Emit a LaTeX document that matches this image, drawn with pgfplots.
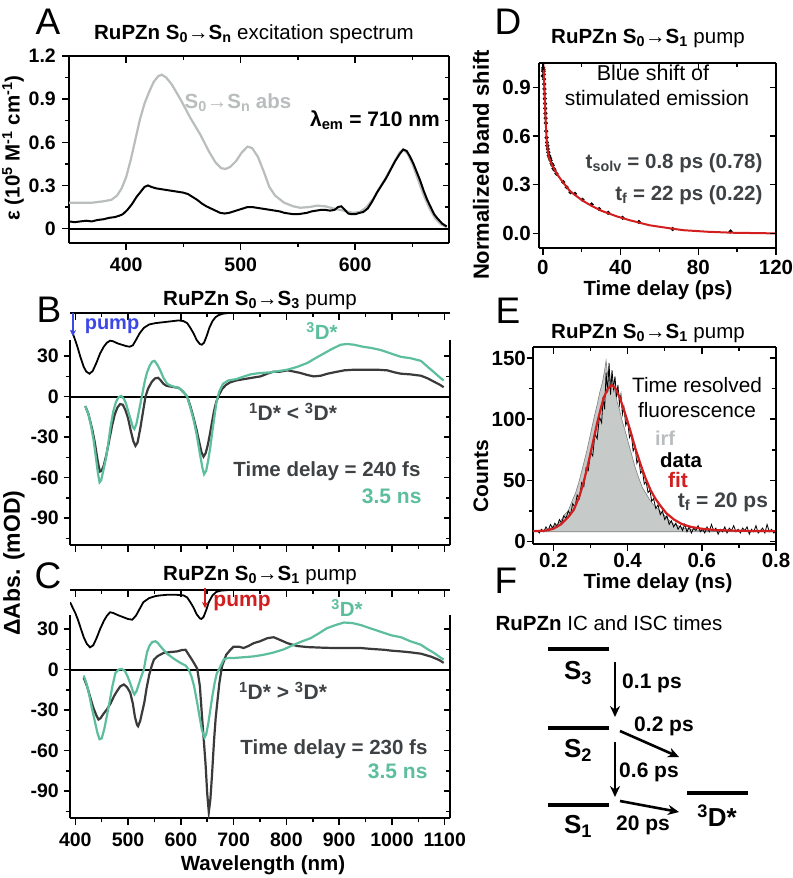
\documentclass[border=0pt]{standalone}
\usepackage{fontspec}
\setmainfont{Liberation Sans}
\usepackage{pgfplots}
\pgfplotsset{compat=1.18}
\usetikzlibrary{arrows.meta}
\definecolor{dkg}{RGB}{58,58,58}
\definecolor{tealc}{RGB}{92,190,158}
\definecolor{ltg}{RGB}{185,189,189}
\definecolor{redc}{RGB}{210,30,30}
\definecolor{bluec}{RGB}{60,72,230}
\definecolor{txtg}{RGB}{62,66,68}
\definecolor{irff}{RGB}{198,202,201}
\newcommand{\fs}[1]{\fontsize{#1bp}{#1bp}\selectfont}
\tikzset{xl/.style={anchor=north, inner sep=0pt, font=\fs{19.5}\bfseries},
         yl/.style={anchor=east, inner sep=0pt, font=\fs{19.5}\bfseries}}
\pgfplotsset{
  base/.style={scale only axis, axis line style={line width=2.2bp,-}, tick style={line width=1.5bp,black},
    major tick length=6.5bp, minor tick length=4bp, xticklabels={}, yticklabels={}, clip mode=individual},
  front/.style={base, axis x line*=bottom, axis y line*=left, tick align=outside},
  back/.style={base, axis x line*=top, axis y line*=right, tick align=inside},
  panA/.style={at={(69bp,-243bp)}, anchor=south west, width=380bp, height=187bp,
    xmin=350, xmax=682, ymin=-0.1, ymax=1.2, xtick={400,500,600}, minor xtick={450,550,650},
    ytick={0,0.3,0.6,0.9,1.2}, minor ytick={0.15,0.45,0.75,1.05}},
  panBC/.style={width=380bp, anchor=south west, xmin=390, xmax=1110, ymin=-110,
    xtick={400,500,...,1100}, minor xtick={450,550,...,1050},
    ytick={-90,-60,-30,0,30}, minor ytick={-105,-75,-45,-15,15},
    y axis line style={draw=none}},
  panB/.style={panBC, at={(70bp,-545bp)}, height=232bp, ymax=62},
  panC/.style={panBC, at={(70bp,-818bp)}, height=228bp, ymax=59},
  panD/.style={at={(539bp,-248bp)}, anchor=south west, width=237bp, height=185bp,
    xmin=-2, xmax=120, ymin=-0.09, ymax=1.05, xtick={0,40,80,120}, minor xtick={20,60,100},
    ytick={0,0.3,0.6,0.9}},
  panE/.style={at={(533bp,-544bp)}, anchor=south west, width=243bp, height=197bp,
    xmin=0.145, xmax=0.8, ymin=-2, ymax=159, xtick={0.2,0.4,0.6,0.8}, minor xtick={0.3,0.5,0.7},
    ytick={0,50,100,150}, minor ytick={25,75,125}},
}
\begin{document}
\begin{tikzpicture}
\useasboundingbox (0,0) rectangle (793bp,-878bp);

% ================= Panel A =================
\begin{axis}[front, panA]
\pgfplotsinvokeforeach{400,500,600}{\node[xl, yshift=-15bp] at (axis cs:#1,-0.1) {#1};}
\pgfplotsinvokeforeach{0,0.3,0.6,0.9,1.2}{\node[yl, xshift=-13bp] at (axis cs:350,#1) {#1};}
\addplot[black, line width=2bp] coordinates {(350,0)(682,0)};
\addplot[ltg, line width=2.2bp] coordinates {
(350,0.18)(360,0.18)(370,0.18)(380,0.19)(387,0.2)(392,0.23)(396,0.28)(400,0.36)(404,0.48)(408,0.62)(412,0.76)(416,0.87)(420,0.95)(424,1.02)(428,1.06)(431,1.07)(435,1.05)(440,1.0)(448,0.89)(456,0.77)(465,0.65)(472,0.54)(478,0.46)(483,0.42)(487,0.415)(491,0.43)(496,0.47)(501,0.53)(506,0.57)(510,0.56)(515,0.5)(520,0.4)(525,0.29)(530,0.23)(538,0.18)(546,0.155)(552,0.145)(560,0.15)(567,0.16)(574,0.155)(581,0.14)(590,0.125)(598,0.11)(604,0.115)(610,0.15)(616,0.21)(622,0.29)(628,0.37)(634,0.46)(639,0.53)(642,0.55)(646,0.52)(650,0.45)(655,0.34)(660,0.23)(665,0.14)(670,0.07)(675,0.03)(680,0.01)};
\addplot[black, line width=2bp] coordinates {
(350,0.05)(355,0.045)(360,0.05)(365,0.055)(370,0.05)(375,0.06)(380,0.065)(385,0.075)(390,0.08)(394,0.09)(397,0.1)(401,0.13)(405,0.17)(409,0.22)(413,0.26)(416,0.29)(419,0.3)(422,0.29)(426,0.28)(430,0.275)(434,0.27)(438,0.265)(442,0.26)(446,0.255)(450,0.25)(454,0.24)(458,0.22)(462,0.2)(466,0.175)(470,0.155)(474,0.14)(478,0.125)(482,0.11)(486,0.105)(490,0.11)(494,0.12)(498,0.13)(502,0.14)(506,0.15)(510,0.15)(514,0.145)(518,0.14)(522,0.135)(526,0.13)(530,0.125)(534,0.12)(538,0.11)(542,0.105)(546,0.1)(550,0.1)(554,0.105)(558,0.11)(562,0.12)(566,0.125)(570,0.13)(574,0.13)(578,0.125)(582,0.13)(585,0.15)(588,0.155)(591,0.13)(594,0.105)(597,0.1)(600,0.1)(604,0.11)(607,0.115)(611,0.14)(615,0.19)(619,0.25)(623,0.3)(627,0.35)(631,0.41)(635,0.47)(639,0.52)(642,0.55)(645,0.54)(648,0.5)(651,0.45)(654,0.39)(657,0.33)(660,0.26)(663,0.2)(666,0.15)(669,0.1)(672,0.07)(676,0.035)(680,0.015)};
\end{axis}
\begin{axis}[back, panA]
\end{axis}

% ================= Panel B =================
\begin{axis}[front, panB]
\pgfplotsinvokeforeach{-90,-60,-30,0,30}{\node[yl, xshift=-11bp] at (axis cs:390,#1) {#1};}
\draw[line width=2.2bp] (axis cs:390,42) -- (axis cs:390,-110);
\addplot[black, line width=2bp] coordinates {(390,0)(1110,0)};
\addplot[black, line width=1.8bp] coordinates {
(393,49)(398,44)(404,37)(410,29)(416,22)(421,18.5)(427,17)(433,19)(440,25)(447,32)(454,37)(460,40)(466,41.5)(472,41)(480,39.5)(488,38.5)(496,37.5)(503,37)(509,38)(515,42)(522,47)(530,51)(540,53.5)(552,54.5)(563,55)(574,55.5)(585,56)(596,56.5)(605,56)(612,54.5)(618,51)(624,47)(630,42)(636,39)(640,38.5)(644,40)(649,45)(654,51)(660,56)(666,59)(672,60.5)(680,61.5)(690,62)};
\addplot[dkg, line width=2.2bp] coordinates {
(419,-7)(425,-13)(432,-24)(437,-34)(441,-44)(444,-51)(447,-55.5)(450,-55)(454,-51)(459,-43)(465,-31)(470,-21)(475,-13)(480,-8)(485,-5.5)(490,-6)(495,-10)(500,-16)(505,-25)(510,-33)(514,-36.5)(518,-34)(523,-24)(528,-12)(533,0)(538,6)(545,11)(551,13.5)(557,14)(562,12)(567,9.5)(573,8)(580,7.5)(588,7)(596,6.5)(602,4.5)(608,2)(612,0)(618,-7)(624,-15.5)(630,-25)(635,-34)(639,-41)(643,-44.5)(647,-42)(651,-36)(655,-28)(659,-19)(663,-10.5)(667,-4)(672,1)(678,5.5)(685,8.5)(693,10.5)(705,12)(720,13)(735,14)(751,15)(764,17)(775,18.5)(788,18.5)(802,19.5)(815,18.5)(827,17.5)(840,16)(852,15)(865,15.5)(878,17)(890,18)(910,19.5)(930,20)(950,20)(970,20)(991,19.5)(1005,18)(1017,17)(1035,16.5)(1055,15.5)(1068,13.5)(1080,11)(1090,9)(1098,7)};
\addplot[tealc, line width=2.2bp] coordinates {
(419,-7)(425,-13)(430,-22)(435,-33)(439,-45)(443,-57)(446,-63.5)(449,-62)(453,-55)(458,-46)(462,-36)(467,-22)(472,-11)(477,-4)(482,-0.5)(487,0.5)(492,-1.5)(496,-5)(500,-10.5)(505,-17)(509,-22.5)(512,-24)(516,-20)(520,-12)(524,-4)(528,4)(532,12)(536,18)(541,23)(546,26)(550,26.5)(555,24)(561,19.5)(567,14)(574,9.5)(582,8)(590,7)(596,6.5)(602,4.5)(608,2)(612,0)(618,-8)(624,-17)(630,-28)(636,-42)(641,-53)(644,-57.5)(648,-55)(652,-47)(656,-37)(661,-22)(665,-11)(668,-3)(673,4)(680,9.5)(690,12)(705,13)(720,15)(732,16.5)(750,17.5)(770,18)(786,19)(802,20)(820,22)(840,25)(855,28.5)(871,32)(887,35.5)(903,38.5)(915,39)(928,38.5)(945,37)(962,36)(979,34.5)(998,32)(1017,29.5)(1035,28.5)(1055,26.5)(1068,22)(1080,18)(1090,14.5)(1098,12)};
\end{axis}
\begin{axis}[back, panB]
\draw[line width=2.2bp] (axis cs:1110,42) -- (axis cs:1110,-110);
\end{axis}

% ================= Panel C =================
\begin{axis}[front, panC]
\pgfplotsinvokeforeach{400,500,600,700,800,900,1000,1100}{\node[xl, yshift=-15bp] at (axis cs:#1,-110) {#1};}
\pgfplotsinvokeforeach{-90,-60,-30,0,30}{\node[yl, xshift=-11bp] at (axis cs:390,#1) {#1};}
\draw[line width=2.2bp] (axis cs:390,40.5) -- (axis cs:390,-110);
\addplot[black, line width=2bp] coordinates {(390,0)(1110,0)};
\addplot[black, line width=1.8bp] coordinates {
(390,50)(395,46)(400,42)(405,37)(410,31)(416,24)(422,19)(428,16.5)(434,18)(440,23)(447,30)(454,36)(460,40)(466,42.5)(472,42)(480,40.5)(490,39)(500,37.5)(508,37)(515,40)(522,45)(529,50)(540,53)(552,54.5)(561,55)(575,55.5)(590,55.5)(605,55)(612,53.5)(618,50)(624,46)(630,41)(636,38)(639,37.5)(643,39)(648,44)(653,50)(660,55)(667,57.5)(675,58.5)(690,59)};
\addplot[dkg, line width=2.2bp] coordinates {
(416,-6)(422,-12)(428,-20)(434,-28)(440,-34)(444,-37)(448,-36)(453,-33)(460,-29.5)(467,-25)(473,-20)(479,-16)(485,-12.5)(492,-11)(498,-13)(504,-17)(509,-25)(513,-35)(517,-41)(519,-42)(523,-38)(527,-31)(531,-24)(535,-14)(540,-4)(545,3)(549,7.4)(556,10)(567,12.3)(580,13)(593,13.5)(602,14.5)(609,14.7)(615,11)(621,7.4)(627,3.5)(631,0.7)(636,-12)(640,-34)(644,-55)(647,-71)(650,-92)(653,-105.6)(656,-96)(659,-78.6)(663,-52)(666,-36)(669,-24.6)(673,-10)(678,2.5)(686,11)(694,14.7)(700,17)(710,17)(719,16)(728,17.5)(738,19.6)(750,21)(764,23.3)(776,24)(788,22)(802,19.6)(820,17.5)(840,16.7)(865,16.3)(890,16)(915,16)(941,16)(962,15.3)(985,14.7)(1000,14)(1017,13.5)(1035,12.8)(1055,11.8)(1075,9.5)(1090,7)(1098,5)};
\addplot[tealc, line width=2.2bp] coordinates {
(416,-4.4)(421,-10)(426,-18)(432,-29.5)(438,-40)(442,-47)(446,-51.6)(450,-51)(455,-44)(460,-34)(465,-24)(470,-13)(476,-2.5)(482,0)(488,0.5)(494,-1)(499,-5)(504,-10)(509,-16)(512,-18.4)(516,-16)(521,-10)(526,-4)(530,0)(533,7)(536,13)(541,18)(546,20.5)(552,21)(557,19.5)(562,17)(567,14.7)(573,12)(580,10)(587,8)(593,6.5)(599,5)(604,4)(609,3)(615,0)(620,-5)(625,-12)(631,-24.6)(636,-36)(640,-45)(645,-50.4)(648,-48)(652,-40)(656,-29.5)(660,-19)(664,-10)(668,-3)(672,0)(677,4)(681,7.4)(688,8.5)(700,8.6)(720,9.2)(738,9.8)(757,11)(776,12.7)(795,15)(814,18.4)(830,21)(846,23.3)(862,27)(877,30.7)(893,33)(909,34.9)(925,34.5)(941,33)(960,30.5)(979,28)(998,25.5)(1017,24)(1035,21)(1055,18.4)(1068,15)(1080,12.3)(1090,9.5)(1098,7.4)};
\end{axis}
\begin{axis}[back, panC]
\draw[line width=2.2bp] (axis cs:1110,40.5) -- (axis cs:1110,-110);
\end{axis}

% ================= Panel D =================
\begin{axis}[front, panD]
\pgfplotsinvokeforeach{0,40,80,120}{\node[xl, yshift=-12bp, font=\fs{20.5}\bfseries] at (axis cs:#1,-0.09) {#1};}
\node[yl, xshift=-8bp, font=\fs{20.5}\bfseries] at (axis cs:-2,0) {0.0};
\pgfplotsinvokeforeach{0.3,0.6,0.9}{\node[yl, xshift=-8bp, font=\fs{20.5}\bfseries] at (axis cs:-2,#1) {#1};}
\addplot[only marks, mark=*, mark size=1.9bp, black] coordinates {
(0,0.97)(0.1,1.0)(0.2,1.02)(0.3,1.01)(0.4,1.0)(0.5,0.98)(0.6,0.95)(0.7,0.92)(0.8,0.89)(0.9,0.86)(1.0,0.83)(1.1,0.8)(1.2,0.77)(1.3,0.74)(1.4,0.71)(1.5,0.68)(1.7,0.63)(1.9,0.59)(2.1,0.56)(2.3,0.54)(2.5,0.52)(2.8,0.5)(3.1,0.48)(3.4,0.47)(3.7,0.46)(4.0,0.45)(4.5,0.43)(5.0,0.42)(5.5,0.4)(6.0,0.39)(7.0,0.368)(10.5,0.316)(12.2,0.285)(14.2,0.254)(16.5,0.244)(20.4,0.207)(25.1,0.178)(29,0.15)(33.6,0.127)(41,0.096)(49.4,0.07)(66.8,0.027)(96.6,0.012)};
\addplot[redc, line width=2bp] coordinates {
(0,1.02)(0.25,1.03)(0.5,0.98)(0.75,0.9)(1,0.82)(1.5,0.67)(2,0.57)(2.5,0.51)(3,0.475)(4,0.44)(5,0.415)(7,0.37)(10,0.32)(14,0.26)(20,0.205)(25,0.17)(30,0.14)(38,0.105)(45,0.08)(55,0.05)(65,0.032)(72,0.02)(85,0.01)(98,0.004)(120,0.0)};
\end{axis}
\begin{axis}[back, panD]
\end{axis}

% ================= Panel E =================
\begin{axis}[front, panE]
\pgfplotsinvokeforeach{0.2,0.4,0.6,0.8}{\node[xl, yshift=-9bp, font=\fs{20.5}\bfseries] at (axis cs:#1,-2) {#1};}
\pgfplotsinvokeforeach{0,50,100,150}{\node[yl, xshift=-7bp, font=\fs{20.5}\bfseries] at (axis cs:0.145,#1) {#1};}
\addplot[fill=irff, draw=gray, line width=0.6bp] coordinates {
(0.150,8)(0.170,8.5)(0.185,10)(0.2,12)(0.21,14)(0.22,17)(0.23,22)(0.24,25)(0.25,33)(0.26,40)(0.27,50)(0.28,62)(0.29,74)(0.3,88)(0.31,102)(0.318,112)(0.325,122)(0.332,130)(0.338,140)(0.342,148)(0.346,136)(0.35,142)(0.354,130)(0.358,137)(0.362,127)(0.367,122)(0.372,114)(0.378,108)(0.385,99)(0.392,92)(0.4,83)(0.41,72)(0.42,61)(0.43,52)(0.44,44)(0.45,39)(0.46,34)(0.47,30)(0.48,27)(0.49,24)(0.5,21)(0.51,18)(0.52,15)(0.535,13)(0.55,11)(0.57,10)(0.6,9)(0.65,8.5)(0.7,8.5)(0.8,8)} -- cycle;
\addplot[black, line width=0.8bp] coordinates {
(0.150,8)(0.156,9)(0.162,7)(0.168,10)(0.174,8)(0.180,12)(0.186,9)(0.192,14)(0.198,11)(0.204,15)(0.210,12)(0.216,18)(0.222,15)(0.228,21)(0.234,19)(0.240,25)(0.246,22)(0.252,31)(0.258,28)(0.264,38)(0.270,35)(0.276,48)(0.282,45)(0.288,60)(0.294,58)(0.300,73)(0.306,70)(0.312,88)(0.318,84)(0.324,102)(0.330,97)(0.334,118)(0.338,108)(0.342,138)(0.346,122)(0.350,146)(0.354,120)(0.358,140)(0.362,125)(0.366,135)(0.370,118)(0.374,128)(0.378,112)(0.382,120)(0.386,104)(0.390,110)(0.395,95)(0.400,99)(0.405,85)(0.410,88)(0.415,74)(0.420,78)(0.425,64)(0.430,68)(0.435,56)(0.440,58)(0.445,47)(0.450,49)(0.455,40)(0.460,42)(0.465,33)(0.470,35)(0.476,27)(0.482,30)(0.488,22)(0.494,25)(0.500,18)(0.506,21)(0.512,14)(0.518,17)(0.524,12)(0.530,15)(0.536,10)(0.542,13)(0.548,9)(0.554,14)(0.560,8)(0.566,12)(0.572,7)(0.578,11)(0.584,9)(0.590,13)(0.596,8)(0.602,10)(0.608,7)(0.614,12)(0.620,8)(0.626,14)(0.632,9)(0.638,11)(0.644,6)(0.650,10)(0.656,8)(0.662,12)(0.668,7)(0.674,11)(0.680,9)(0.686,13)(0.692,8)(0.698,10)(0.704,7)(0.710,11)(0.716,9)(0.722,12)(0.728,6)(0.734,10)(0.740,8)(0.746,13)(0.752,7)(0.758,9)(0.764,11)(0.770,7)(0.776,14)(0.782,8)(0.788,10)(0.794,7)(0.800,9)};
\addplot[redc, line width=2.2bp] coordinates {
(0.145,8.5)(0.18,9)(0.2,10.5)(0.22,14)(0.24,20)(0.255,26)(0.27,37)(0.28,47)(0.291,60)(0.305,79)(0.318,97)(0.328,109)(0.336,118)(0.347,125)(0.357,128)(0.368,125)(0.381,116)(0.395,103)(0.408,90)(0.42,77)(0.435,63)(0.448,52)(0.462,42)(0.475,35)(0.489,29)(0.505,23)(0.525,18)(0.545,14.5)(0.57,12)(0.6,10.5)(0.64,9.3)(0.7,8.8)(0.8,8.5)};
\end{axis}
\begin{axis}[back, panE]
\end{axis}

% ================= Panel F (diagram) =================
\begin{axis}[at={(480bp,-870bp)}, anchor=south west, scale only axis, width=310bp, height=270bp,
  xmin=480, xmax=790, ymin=-870, ymax=-600, hide axis, clip=false]
\addplot[black, line width=4.5bp] coordinates {(548,-649)(609,-649)};
\addplot[black, line width=4.5bp] coordinates {(548,-728)(609,-728)};
\addplot[black, line width=4.5bp] coordinates {(548,-805)(609,-805)};
\addplot[black, line width=4.5bp] coordinates {(687,-793)(748,-793)};
\draw[line width=2.6bp, -{Stealth[length=11bp,width=10bp]}] (axis cs:615,-662) -- (axis cs:615,-717);
\draw[line width=2.6bp, -{Stealth[length=11bp,width=10bp]}] (axis cs:615,-742) -- (axis cs:615,-797);
\draw[line width=2.6bp, -{Stealth[length=11bp,width=10bp]}] (axis cs:620,-731) -- (axis cs:679,-757);
\draw[line width=2.6bp, -{Stealth[length=11bp,width=10bp]}] (axis cs:620,-801) -- (axis cs:679,-812);
\node[font=\fs{26}\bfseries] at (axis cs:578,-673) {S\textsubscript{3}};
\node[font=\fs{26}\bfseries] at (axis cs:578,-750) {S\textsubscript{2}};
\node[font=\fs{26}\bfseries] at (axis cs:578,-826) {S\textsubscript{1}};
\node[font=\fs{26}\bfseries] at (axis cs:717,-816) {\textsuperscript{3}D*};
\node[font=\fs{21}\bfseries] at (axis cs:652,-683) {0.1 ps};
\node[font=\fs{21}\bfseries] at (axis cs:664,-726) {0.2 ps};
\node[font=\fs{21}\bfseries] at (axis cs:649,-772) {0.6 ps};
\node[font=\fs{21}\bfseries] at (axis cs:643,-825) {20 ps};
\end{axis}

% ================= Text =================
\node[font=\fs{37}] at (48bp,-22bp) {A};
\node[font=\fs{37}] at (49bp,-310bp) {B};
\node[font=\fs{37}] at (48bp,-576bp) {C};
\node[font=\fs{37}] at (508bp,-22bp) {D};
\node[font=\fs{37}] at (508bp,-311bp) {E};
\node[font=\fs{37}] at (506bp,-581bp) {F};
% titles
\node[font=\fs{20.5}] at (254bp,-34bp) {\textbf{RuPZn S\textsubscript{0}→S\textsubscript{n}} excitation spectrum};
\node[font=\fs{20.5}] at (260bp,-300bp) {\textbf{RuPZn S\textsubscript{0}→S\textsubscript{3}} pump};
\node[font=\fs{20.5}] at (260bp,-575bp) {\textbf{RuPZn S\textsubscript{0}→S\textsubscript{1}} pump};
\node[font=\fs{20.5}] at (648bp,-38bp) {\textbf{RuPZn S\textsubscript{0}→S\textsubscript{1}} pump};
\node[font=\fs{20.5}] at (648bp,-333bp) {\textbf{RuPZn S\textsubscript{0}→S\textsubscript{1}} pump};
\node[font=\fs{20.5}] at (609bp,-623bp) {\textbf{RuPZn} IC and ISC times};
% axis labels
\node[font=\fs{20.5}\bfseries, rotate=90] at (13bp,-148bp) {ε (10\textsuperscript{5} M\textsuperscript{-1} cm\textsuperscript{-1})};
\node[font=\fs{23}\bfseries, rotate=90] at (14bp,-563bp) {ΔAbs. (mOD)};
\node[font=\fs{20.5}\bfseries] at (263bp,-865bp) {Wavelength (nm)};
\node[font=\fs{22}\bfseries, rotate=90] at (481bp,-165bp) {Normalized band shift};
\node[font=\fs{20.5}\bfseries] at (658bp,-290bp) {Time delay (ps)};
\node[font=\fs{21}\bfseries, rotate=90] at (481bp,-476bp) {Counts};
\node[font=\fs{20.5}\bfseries] at (658bp,-583bp) {Time delay (ns)};
% panel A annotations
\node[font=\fs{20.5}\bfseries, text=ltg] at (238bp,-103bp) {S\textsubscript{0}→S\textsubscript{n} abs};
\node[font=\fs{21}\bfseries] at (375bp,-120bp) {λ\textsubscript{em} = 710 nm};
% panel B annotations
\draw[bluec, line width=2bp, -{Stealth[length=6bp,width=6bp]}] (73bp,-313bp) -- (73bp,-336bp);
\node[font=\fs{20}\bfseries, text=bluec] at (112bp,-326bp) {pump};
\node[font=\fs{20.5}\bfseries, text=tealc] at (322bp,-331bp) {\textsuperscript{3}D*};
\node[font=\fs{21}\bfseries, text=txtg] at (293bp,-412bp) {\textsuperscript{1}D* < \textsuperscript{3}D*};
\node[font=\fs{20.5}\bfseries, text=txtg, anchor=east] at (424bp,-471bp) {Time delay = 240 fs};
\node[font=\fs{21}\bfseries, text=tealc, anchor=east] at (425bp,-496bp) {3.5 ns};
% panel C annotations
\draw[redc, line width=2bp, -{Stealth[length=6bp,width=6bp]}] (205bp,-588bp) -- (205bp,-608bp);
\node[font=\fs{21}\bfseries, text=redc] at (242bp,-603bp) {pump};
\node[font=\fs{20.5}\bfseries, text=tealc] at (347bp,-608bp) {\textsuperscript{3}D*};
\node[font=\fs{21}\bfseries, text=txtg] at (283bp,-691bp) {\textsuperscript{1}D* > \textsuperscript{3}D*};
\node[font=\fs{20.5}\bfseries, text=txtg, anchor=east] at (431bp,-749bp) {Time delay = 230 fs};
\node[font=\fs{21}\bfseries, text=tealc, anchor=east] at (431bp,-771bp) {3.5 ns};
% panel D annotations
\node[font=\fs{21.5}] at (653bp,-73bp) {Blue shift of};
\node[font=\fs{21}] at (657bp,-98bp) {stimulated emission};
\node[font=\fs{20.5}\bfseries, text=txtg, anchor=east] at (766bp,-163bp) {t\textsubscript{solv} = 0.8 ps (0.78)};
\node[font=\fs{20.5}\bfseries, text=txtg, anchor=east] at (766bp,-195bp) {t\textsubscript{f} = 22 ps (0.22)};
% panel E annotations
\node[font=\fs{20.8}] at (697bp,-385bp) {Time resolved};
\node[font=\fs{20.8}] at (697bp,-410bp) {fluorescence};
\node[font=\fs{20}\bfseries, text=ltg] at (665bp,-438bp) {irf};
\node[font=\fs{20.4}\bfseries] at (681bp,-460bp) {data};
\node[font=\fs{21}\bfseries, text=redc] at (678bp,-480bp) {fit};
\node[font=\fs{21}\bfseries, text=txtg] at (723bp,-502bp) {t\textsubscript{f} = 20 ps};
\end{tikzpicture}
\end{document}
